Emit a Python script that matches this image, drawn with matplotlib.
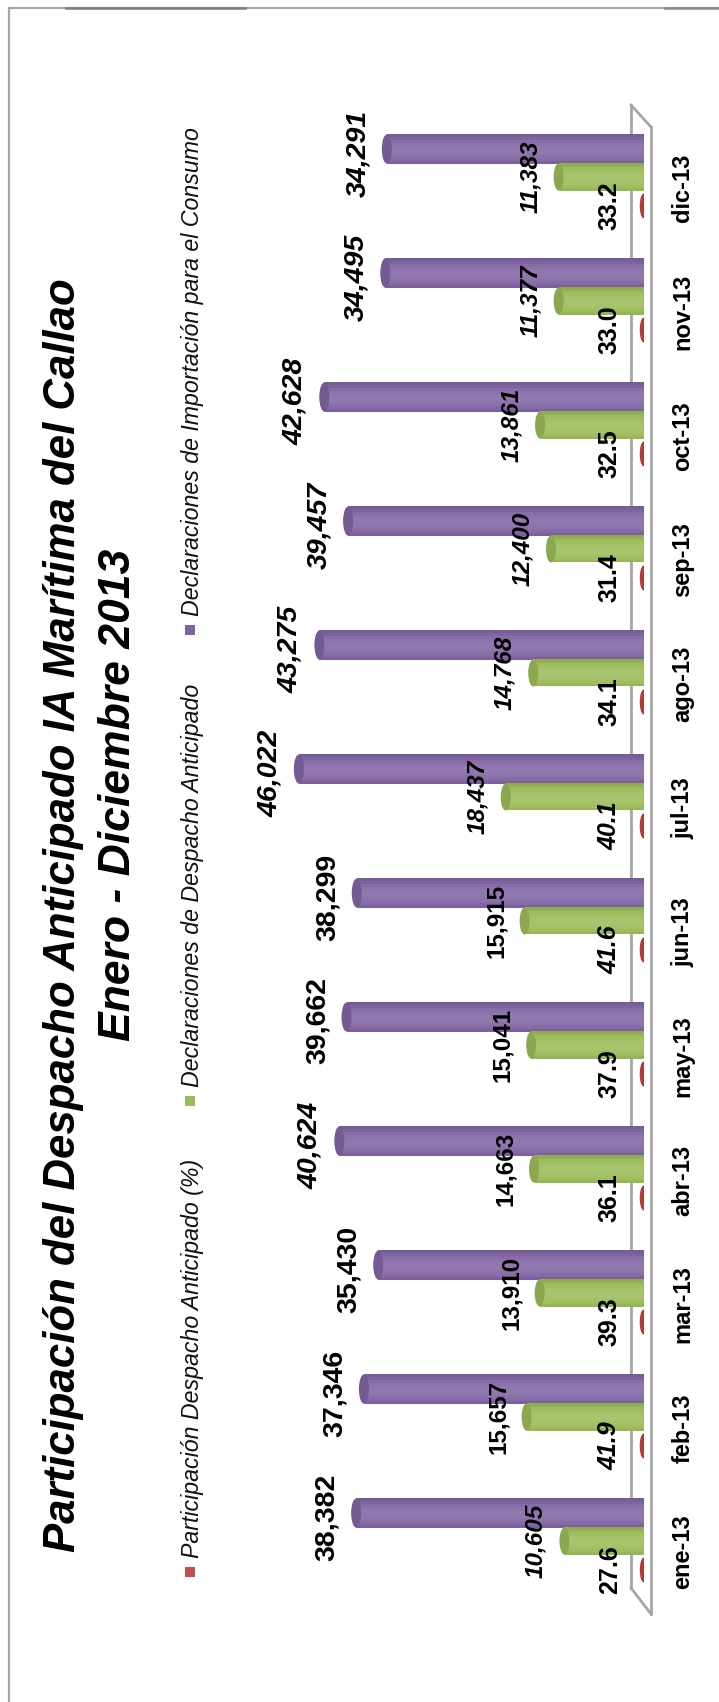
import matplotlib
matplotlib.use('Agg')
import matplotlib.pyplot as plt
import numpy as np
from matplotlib.patches import Ellipse, Rectangle
from matplotlib.lines import Line2D

# datos (ene-13 .. dic-13)
meses = ["ene-13", "feb-13", "mar-13", "abr-13", "may-13", "jun-13",
         "jul-13", "ago-13", "sep-13", "oct-13", "nov-13", "dic-13"]
importacion = [38382, 37346, 35430, 40624, 39662, 38299,
               46022, 43275, 39457, 42628, 34495, 34291]
despacho_anticipado = [10605, 15657, 13910, 14663, 15041, 15915,
                       18437, 14768, 12400, 13861, 11377, 11383]
participacion = [27.6, 41.9, 39.3, 36.1, 37.9, 41.6,
                 40.1, 34.1, 31.4, 32.5, 33.0, 33.2]

series_names = ["Participación Despacho Anticipado (%)",
                "Declaraciones de Despacho Anticipado",
                "Declaraciones de Importación para el Consumo"]
title = "Participación del Despacho Anticipado IA Marítima del Callao"
subtitle = "Enero - Diciembre 2013"

# estilos de etiquetas (cursiva o no), como se ven en la imagen
ital_imp = [0, 0, 0, 1, 0, 0, 1, 1, 1, 1, 1, 1]
ital_des = [1, 0, 0, 0, 0, 0, 1, 1, 1, 1, 1, 1]
ital_par = [0, 1, 0, 0, 0, 1, 1, 0, 0, 0, 0, 0]

RED, GREEN, PURPLE = "#C0504D", "#9BBB59", "#8064A2"
W, H = 719, 1702
PXV = 7.5 / 1000.0          # pixeles por unidad de valor
ROW = 124.0                 # pixeles por categoria


def fx(px):
    return px / W


def fy(py):
    return 1 - py / H


def pt(px):
    return px * 0.72


def shade(color, f):
    c = np.array(matplotlib.colors.to_rgb(color))
    if f >= 1:
        return tuple(c + (1 - c) * (f - 1))
    return tuple(c * f)


fig = plt.figure(figsize=(W / 100, H / 100), dpi=100)

# marco
fig.add_artist(Line2D([fx(9), fx(9)], [fy(8), fy(1702)], color="#A6A6A6", lw=1.6))
fig.add_artist(Line2D([fx(9), fx(719)], [fy(8), fy(8)], color="#A6A6A6", lw=1.6))
fig.add_artist(Line2D([fx(66), fx(245)], [fy(8), fy(8)], color="#7F7F7F", lw=1.8))
fig.add_artist(Line2D([fx(665), fx(719)], [fy(8), fy(8)], color="#8C8C8C", lw=1.8))

# piso 3D
floor = dict(color="#A6A6A6", lw=2.0, zorder=0)
fig.add_artist(Line2D([fx(631), fx(631)], [fy(105), fy(1588)], **floor))
fig.add_artist(Line2D([fx(651), fx(651)], [fy(127), fy(1614)], **floor))
fig.add_artist(Line2D([fx(631), fx(651)], [fy(105), fy(127)], **floor))
fig.add_artist(Line2D([fx(631), fx(651)], [fy(1588), fy(1614)], **floor))

x0_px, x1_px = 244, 644
y_top, y_bot = 100, 1650
ax = fig.add_axes([fx(x0_px), fy(y_bot), fx(x1_px) - fx(x0_px), fy(y_top) - fy(y_bot)])
ax.set_xlim((x1_px - x0_px) / PXV, 0)
ax.set_ylim((1513 - y_bot) / ROW, (1513 - y_top) / ROW)
ax.axis("off")
ax.patch.set_alpha(0)

idx = np.arange(len(meses))


def cylinders(vals, color, yoff, hpx, z):
    vals = np.array(vals, dtype=float)
    h = hpx / ROW
    n = 10
    for k in range(n):
        t = (k + 0.5) / n
        f = 0.78 + 0.35 * np.sin(np.pi * (0.15 + 0.75 * t))
        ax.barh(idx + yoff - h / 2 + h * k / n, vals, height=h / n * 1.05,
                align="edge", color=shade(color, f), lw=0, zorder=z)
    for i, v in enumerate(vals):
        ax.add_patch(Ellipse((v, i + yoff), 10 / PXV, h, color=shade(color, 0.9),
                             lw=0, zorder=z + 0.1))


cylinders(importacion, PURPLE, 0.0, 29, 2)
cylinders(despacho_anticipado, GREEN, -28 / ROW, 27, 3)
for i, v in enumerate(participacion):
    ax.add_patch(Ellipse((v, i - 57 / ROW), 8 / PXV, 25 / ROW, color="#B03C39",
                         lw=0, zorder=4))

lab = dict(textcoords="offset points", rotation=90, ha="right", va="center",
           family=["Liberation Sans", "DejaVu Sans"], fontweight="bold", zorder=6,
           annotation_clip=False)

for i, v in enumerate(importacion):
    ax.annotate(f"{v:,}", xy=(v, i - 4 / ROW), xytext=(-pt(16), 0), fontsize=20.5,
                fontstyle="italic" if ital_imp[i] else "normal", **lab)
for i, v in enumerate(despacho_anticipado):
    ax.annotate(f"{v:,}", xy=(v, i - 28 / ROW), xytext=(-pt(17), 0), fontsize=17.5,
                fontstyle="italic" if ital_des[i] else "normal", **lab)
for i, v in enumerate(participacion):
    ax.annotate(f"{v:.1f}", xy=(v, i - 57 / ROW), xytext=(-pt(22), 0), fontsize=18,
                fontstyle="italic" if ital_par[i] else "normal", **lab)

for i, m in enumerate(meses):
    ax.annotate(m, xy=(0, i - 39 / ROW), xytext=(pt(39), 0), textcoords="offset points",
                rotation=90, ha="center", va="center", fontsize=17, fontweight="bold",
                family=["Liberation Sans", "DejaVu Sans"], annotation_clip=False)

# titulo
fig.text(fx(64), fy(915), title, rotation=90, ha="center", va="center",
         fontsize=31.5, fontweight="bold", fontstyle="italic",
         family=["Liberation Sans", "DejaVu Sans"])
fig.text(fx(118), fy(795), subtitle, rotation=90, ha="center", va="center",
         fontsize=32, fontweight="bold", fontstyle="italic",
         family=["Liberation Sans", "DejaVu Sans"])

# leyenda
leg_colors = [RED, GREEN, PURPLE]
leg_y = [1572, 1101, 630]
for name, c, yy in zip(series_names, leg_colors, leg_y):
    fig.add_artist(Rectangle((fx(185), fy(yy + 5)), fx(10), 10 / H, color=c, lw=0))
    fig.text(fx(193), fy(yy - 14), name, rotation=90, ha="center", va="bottom",
             fontsize=16.7, fontstyle="italic", color="#111111",
             family=["Liberation Sans", "DejaVu Sans"])

fig.savefig("out.png", dpi=100)
